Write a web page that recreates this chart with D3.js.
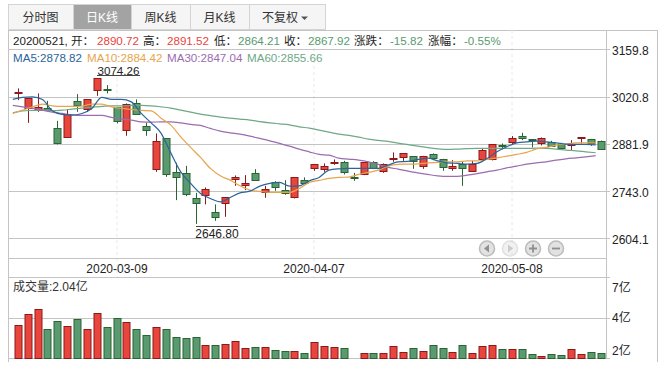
<!DOCTYPE html>
<html><head><meta charset="utf-8">
<script src="https://cdn.jsdelivr.net/npm/d3@7/dist/d3.min.js"></script>
<style>
html,body{margin:0;padding:0;background:#fff;overflow:hidden}
text{font-family:"Liberation Sans","Noto Sans CJK SC",sans-serif}
</style></head><body><svg id="c" width="665" height="372"></svg>
<script>
const dates=["02-24","02-25","02-26","02-27","02-28","03-02","03-03","03-04","03-05","03-06","03-09","03-10","03-11","03-12","03-13","03-16","03-17","03-18","03-19","03-20","03-23","03-24","03-25","03-26","03-27","03-30","03-31","04-01","04-02","04-03","04-07","04-08","04-09","04-10","04-13","04-14","04-15","04-16","04-17","04-20","04-21","04-22","04-23","04-24","04-27","04-28","04-29","04-30","05-06","05-07","05-08","05-11","05-12","05-13","05-14","05-15","05-18","05-19","05-20","05-21"];
const opens=[3029.3,2985.8,2980.8,2985.8,2927.1,2900.7,3008.1,2982.9,3037.5,3041.6,2988.8,2920,3002.3,2934.7,2806.7,2897.7,2797.9,2794.9,2721.5,2729.1,2680.4,2706.8,2777.3,2761.4,2794.9,2740.9,2768.5,2745,2724.4,2774.4,2808.4,2805.5,2826.1,2827.2,2785.5,2792.9,2827.2,2799.6,2836.9,2840.7,2844.9,2814.3,2850.7,2836,2811.4,2822.2,2802.6,2836,2836,2877.2,2884.8,2903.6,2894.8,2881.9,2887.7,2881.9,2878,2899.5,2896.5,2890.72];
const highs=[3044.6,3016,3029.9,3008.1,2949.4,2982.9,3027.8,3012.3,3074.26,3054.3,2990.5,3000.5,3012.3,2943.5,2912.4,2897.7,2826.1,2817.2,2737.9,2753.8,2703.9,2724.4,2789,2789.9,2807.5,2758.5,2772.3,2775.2,2783.2,2783.2,2821.4,2824.3,2836,2831.9,2796.7,2827.2,2831,2824.3,2856.6,2853.7,2844.9,2846.6,2853.7,2837.8,2834,2829,2831.9,2867.2,2880.1,2883,2904.5,2914.2,2895.7,2900.6,2890.7,2884.8,2892.7,2900.6,2896.5,2891.52];
const lows=[3010.2,2943.5,2975.8,2978.8,2880.1,2900,2975.8,2975.8,3022.8,3029.9,2941.8,2905.4,2967,2905.4,2799.6,2784.9,2716.5,2728.2,2646.8,2703.9,2655.7,2667.5,2758.5,2745.9,2774,2723.3,2743.9,2732.1,2721.5,2763.5,2802.6,2799.6,2820.2,2792,2773.2,2789.9,2807.5,2796.7,2829,2831.9,2808.4,2808.4,2834,2802.6,2802.6,2758.5,2799.6,2835,2833.1,2865.4,2878.9,2892.7,2871.3,2877.2,2873.1,2864.2,2863.4,2883,2876,2864.21];
const closes=[3033.1,3015.2,2988.8,2980.8,2883,2968.2,2996.4,3012.3,3074,3038.7,2947.6,2997.6,2971.1,2924.1,2888.9,2792,2783.2,2733.2,2706.8,2747.9,2664.5,2724.4,2783.2,2766.4,2774.4,2748.8,2753.8,2736.2,2783.2,2765.6,2821.4,2815.5,2828.1,2797.9,2784.1,2827.2,2809.6,2821.4,2839,2853.7,2829,2844.9,2837.8,2811.4,2816.4,2811.4,2823.1,2862.5,2880.1,2873.1,2897.7,2897.7,2890.7,2897.7,2875.1,2871.3,2880.1,2900.6,2883.9,2867.92];
const ma5=[3012.3,3018.1,3019.9,3012.3,2978.8,2968.2,2966.1,2971.1,2985.8,3018.1,3012.3,3012.3,3005.2,2971.1,2943.5,2913.3,2854.5,2799.6,2765.6,2736.2,2721.5,2711.5,2724.4,2737.9,2742.9,2757.6,2765.6,2768.5,2757.6,2758.5,2773.2,2783.2,2804.6,2808.4,2809.6,2809.6,2809.6,2809.6,2819.3,2829,2830.2,2836,2839.9,2831.9,2826.1,2824.3,2822.2,2824.3,2839,2858.4,2873.1,2884.8,2887.7,2889.8,2887.7,2884.8,2881,2880.1,2880.1,2878.82];
const ma10=[2971.1,2980.8,2990.5,2998.5,2993.5,2991.7,2991.7,2992.6,2998.5,2998.5,2990.5,2985.8,2982.9,2980,2978.8,2957.3,2936.8,2902.4,2871.3,2841.9,2809.6,2787.9,2775.2,2758.5,2745.9,2742.1,2739.1,2739.1,2739.1,2750.9,2768.5,2774.4,2780.2,2783.2,2784.1,2792,2797.9,2804.6,2816.4,2821.4,2822.2,2823.1,2826.1,2827.2,2829,2829,2831.9,2831.9,2836,2840.7,2845.7,2850.7,2856.6,2867.2,2871.3,2878,2881,2884.8,2884.8,2884.42];
const ma30=[2994.6,2990.5,2986.7,2980.8,2975,2971.1,2967,2965.3,2965.3,2965.3,2959.4,2954.4,2951.5,2946.5,2945.6,2946.5,2946.5,2943.5,2938.8,2935.9,2927.1,2919.2,2914.2,2910.3,2904.5,2897.7,2890.7,2883,2875.1,2866.3,2858.4,2850.7,2848.7,2839.9,2836.9,2834,2829,2821.4,2812.5,2807.5,2801.7,2796.7,2792,2787.9,2786.1,2786.1,2789.9,2794.3,2799.6,2804.6,2811.4,2816.4,2822.2,2826.1,2829,2834,2837.8,2840.7,2843.7,2847.04];
const ma60=[2972.9,2978.8,2980,2980.8,2978.8,2980.8,2983.8,2986.7,2989.6,2991.7,2993.5,2993.5,2994.6,2994.6,2993.5,2990.5,2986.7,2980.8,2975,2969.1,2964.7,2960.3,2957.3,2954.4,2951.5,2947.1,2943.5,2940.6,2937.7,2931.8,2928,2922.1,2916.2,2910.3,2906.5,2901.5,2895.7,2891.9,2888.9,2883.9,2879.5,2875.1,2870.7,2867.2,2865.4,2866.3,2867.8,2868.3,2868.3,2868.3,2868.3,2868.3,2868.3,2869.2,2868.3,2866.3,2863.4,2861.3,2858.4,2855.66];
const volumes=[3.91,4.69,5.02,3.69,4.22,3.89,4.36,3.69,4.75,3.82,4.42,4.16,3.69,3.23,3.82,3.69,3.16,3.03,3.16,2.56,2.56,2.63,2.83,2.36,2.43,2.43,2.23,2.16,2.16,2.03,2.76,2.5,2.43,2.36,1.72,2.03,2.03,2.03,2.5,2.1,2.36,2.16,2.56,2.36,2.1,2.56,2.03,2.5,2.56,2.3,2.3,2.3,1.97,1.83,1.97,1.9,2.3,1.97,2.1,2.04];
const priceTicks=[3159.8,3020.8,2881.9,2743.0,2604.1];
const volTicks=[7.1,4.4,1.7];
const volTickLabels=["7亿","4亿","2亿"];
const dateTicks=["03-09","04-07","05-08"];
const tabs=["分时图","日K线","周K线","月K线","不复权"];

const RED="#e8453c",REDD="#8c1a1a",GRN="#5a9a70",GRND="#2a6430",LINE="#c4c4c4",TXT="#222";
const svg=d3.select("#c");
const x=d3.scaleBand().domain(dates).range([12.8,605.6]);
const y=d3.scaleLinear().domain([2604.1,3159.8]).range([238.4,49.2]);
const yv=d3.scaleLinear().domain([1.7,7.1]).range([358.4,277.4]);
const cx=d=>Math.round(x(d)+x.bandwidth()/2)+.5;
const crisp=v=>Math.round(v)+.5;
const hl=(a,b,yy,c=LINE,w=1)=>svg.append("line").attr("x1",a).attr("x2",b).attr("y1",yy).attr("y2",yy).attr("stroke",c).attr("stroke-width",w);
const vl=(xx,a,b,c=LINE,w=1,da=null)=>svg.append("line").attr("x1",xx).attr("x2",xx).attr("y1",a).attr("y2",b).attr("stroke",c).attr("stroke-width",w).attr("stroke-dasharray",da);
const T=(s,xx,yy,c=TXT,fs=12,anc="start")=>svg.append("text").attr("x",xx).attr("y",yy).attr("fill",c).attr("font-size",fs).attr("text-anchor",anc).text(s);

// tabs
const tabX=[8,73,131,190,249,325];
tabs.forEach((t,i)=>{
  svg.append("rect").attr("x",tabX[i]+.5).attr("y",4.5).attr("width",tabX[i+1]-tabX[i]).attr("height",25).attr("fill",i==1?"#a3a3a3":"#f5f5f5").attr("stroke","#d4d4d4");
  const cxx=(tabX[i]+tabX[i+1])/2-(i==4?7:0);
  T(t,cxx,22,i==1?"#fff":"#333",12,"middle");
});
svg.append("path").attr("d",d3.line()([[301,16.5],[308,16.5],[304.5,20]])+"Z").attr("fill","#555");

// frame
hl(8,658,30.5);
vl(8.5,30,362);vl(657.5,30,362);vl(606.5,30,358);
dateTicks.forEach(d=>vl(cx(d)-.5+.0,30,277,"#e8e8e8",1,"3,3"));
priceTicks.forEach(v=>{hl(8,610,crisp(y(v)));T(d3.format(".1f")(v),612,y(v)+5.5,TXT,12);});
hl(8,606,258.5);hl(8,610,277.5);
volTicks.forEach((v,i)=>{hl(8,610,crisp(yv(v)));});
dateTicks.forEach(d=>T("2020-"+d,cx(d)-.5,273,TXT,12,"middle"));
volTicks.forEach((v,i)=>T(volTickLabels[i],612,[292,322,355][i],TXT,12));

// header
[["20200521, 开：",13,TXT],["2890.72",97,RED],["高：",143,TXT],["2891.52",167,RED],["低：",214,TXT],["2864.21",238,GRN],["收：",284,TXT],["2867.92",308,GRN],["涨跌：",354,TXT],["-15.82",390,GRN],["涨幅：",428,TXT],["-0.55%",464,GRN]]
 .forEach(a=>T(a[0],a[1],45,a[2],11.6));
const mas=[[ma5,"#2c6499","MA5",13],[ma10,"#e6a54d","MA10",87],[ma30,"#9a6cb0","MA30",167],[ma60,"#6ea888","MA60",247]];
mas.forEach(m=>T(m[2]+":"+d3.format(".2f")(m[0][59]),m[3],62,m[1],11.6));

// candles
const idx=d3.range(dates.length);
const up=i=>closes[i]>=opens[i];
const g=svg.append("g");
g.selectAll("line").data(idx).join("line")
 .attr("x1",i=>cx(dates[i])).attr("x2",i=>cx(dates[i]))
 .attr("y1",i=>y(highs[i])).attr("y2",i=>y(lows[i]))
 .attr("stroke",i=>up(i)?REDD:GRND).attr("stroke-width",1);
g.selectAll("rect").data(idx).join("rect")
 .attr("x",i=>cx(dates[i])-3.5).attr("width",7)
 .attr("y",i=>crisp(y(Math.max(opens[i],closes[i]))))
 .attr("height",i=>Math.max(1,Math.round(Math.abs(y(opens[i])-y(closes[i])))))
 .attr("fill",i=>up(i)?RED:GRN).attr("stroke",i=>up(i)?REDD:GRND).attr("stroke-width",1);

// moving averages
[ma60,ma30,ma10,ma5].forEach(s=>{
  const m=mas.find(k=>k[0]===s);
  svg.append("path").datum(s).attr("fill","none").attr("stroke",m[1]).attr("stroke-width",1.2)
   .attr("d",d3.line().x((v,i)=>x(dates[i])).y(v=>y(v)).curve(d3.curveMonotoneX));
});

// extreme labels
T("3074.26",118.5,75,TXT,11.6,"middle");hl(97,140,75.5,"#444");
hl(196,238,226.5,"#444");T("2646.80",217,238,TXT,12,"middle");

// volume
T("成交量:2.04亿",13,291,"#333",12);
svg.append("g").selectAll("rect").data(idx).join("rect")
 .attr("x",i=>cx(dates[i])-3.5).attr("width",7)
 .attr("y",i=>crisp(yv(volumes[i]))).attr("height",i=>Math.max(0,358-crisp(yv(volumes[i]))+.5))
 .attr("fill",i=>up(i)?RED:GRN).attr("stroke",i=>up(i)?REDD:GRND);

// nav buttons
[[487,"l",1],[510,"r",.45],[533,"+",1],[556,"-",1]].forEach(b=>{
  const n=svg.append("g").attr("transform",`translate(${b[0]},248.5)`).attr("opacity",b[2]);
  n.append("circle").attr("r",7.5).attr("fill","#e2e2e2").attr("stroke","#bdbdbd").attr("stroke-width",1.6);
  const c="#8f8f8f";
  if(b[1]=="l")n.append("path").attr("d","M-3,0L2,-4V4Z").attr("fill",c);
  if(b[1]=="r")n.append("path").attr("d","M3,0L-2,-4V4Z").attr("fill",c);
  if(b[1]=="+")n.append("path").attr("d","M-4,0H4M0,-4V4").attr("stroke",c).attr("stroke-width",1.8);
  if(b[1]=="-")n.append("path").attr("d","M-4,0H4").attr("stroke",c).attr("stroke-width",1.8);
});
</script></body></html>
